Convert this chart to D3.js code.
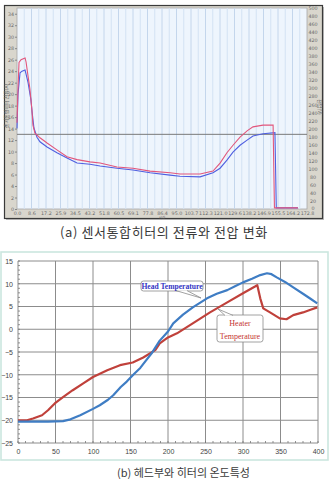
<!DOCTYPE html>
<html>
<head>
<meta charset="utf-8">
<script src="https://cdn.jsdelivr.net/npm/d3@7"></script>
<style>
  body { margin: 0; background: #fff; }
  svg { display: block; }
</style>
</head>
<body>
<script>
var width = 331, height = 479;

// (a) current / voltage of the sensor-integrated heater
var timeTickLabels = ["0.0", "8.6", "17.2", "25.9", "34.5", "43.2", "51.8", "60.5", "69.1", "77.8", "86.4",
    "95.0", "103.7", "112.3", "121.0", "129.6", "138.2", "146.9", "155.5", "164.2", "172.8"];
var currentTicks = d3.range(0, 35, 2);
var voltageTicks = d3.range(0, 501, 20);
var setLevel = 13.0;

var redTime = [0, 0.6, 1.2, 2.4, 4.8, 5.4, 6.6, 7.7, 8.9, 9.5, 10.7, 13.7, 17.9, 23.8, 29.8, 35.8, 43.5, 49.5,
    59.6, 69.1, 79.3, 91.2, 97.1, 109.1, 116.8, 121.0, 125.1, 128.7, 132.9, 137.1, 140.6, 146.6, 152.6, 153.4, 167.4];
var redValue = [15.0, 21.0, 25.5, 26.0, 26.3, 25.6, 23.1, 20.9, 17.2, 14.6, 13.2, 12.4, 11.5, 10.3, 9.1, 8.6, 8.2, 8.0,
    7.3, 7.1, 6.6, 6.3, 6.1, 6.1, 6.6, 8.0, 9.8, 11.1, 12.5, 13.6, 14.3, 14.6, 14.6, 0.2, 0.2];

var blueTime = [0, 0.6, 1.8, 3.0, 4.8, 5.4, 6.6, 8.3, 9.0, 10.1, 11.9, 13.7, 17.9, 23.8, 29.8, 35.8, 43.5, 49.5,
    59.6, 69.1, 79.3, 91.2, 97.1, 109.1, 116.8, 121.0, 125.1, 128.7, 132.9, 137.1, 140.6, 146.6, 153.7, 154.5, 167.4];
var blueValue = [14.0, 20.0, 23.7, 24.0, 24.2, 23.5, 22.0, 19.0, 16.9, 14.1, 12.5, 11.7, 10.8, 9.8, 8.9, 8.0, 7.8, 7.5,
    7.1, 6.8, 6.3, 5.9, 5.7, 5.6, 6.3, 7.1, 8.5, 9.9, 11.1, 12.0, 12.7, 13.1, 13.3, 0.2, 0.2];

// (b) head / heater temperature
var tempXTicks = [0, 50, 100, 150, 200, 250, 300, 350, 400];
var tempYTicks = [-25, -20, -15, -10, -5, 0, 5, 10, 15];

var headTime = [0, 20, 40, 60, 70, 83, 100, 109, 120, 127, 137, 145, 155, 163, 170, 179, 189, 200, 207, 220, 233,
    252, 265, 279, 290, 300, 312, 323, 332, 338, 345, 356, 367, 380, 390, 399];
var headTemp = [-20.3, -20.3, -20.3, -20.2, -19.8, -18.9, -17.5, -16.7, -15.5, -14.5, -12.7, -11.5, -9.8, -8.5, -7.0, -5.1, -2.5, -0.5, 1.3, 3.2, 4.8,
    6.8, 7.8, 8.6, 9.5, 10.3, 11.1, 11.9, 12.3, 12.1, 11.4, 10.4, 9.2, 7.8, 6.7, 5.7];

var heaterTime = [0, 12, 20, 32, 40, 49, 60, 73, 87, 100, 119, 136, 153, 167, 183, 189, 200, 212, 233, 256, 279,
    300, 316, 319, 323, 327, 336, 349, 358, 367, 380, 390, 399];
var heaterTemp = [-20.0, -20.0, -19.6, -18.9, -17.8, -16.3, -14.9, -13.4, -11.9, -10.5, -9.0, -7.9, -7.3, -6.2, -4.6, -3.1, -1.8, -0.9, 1.3, 3.7, 5.9,
    7.9, 9.4, 9.7, 6.8, 4.6, 3.7, 2.4, 2.2, 3.1, 3.7, 4.3, 4.8];

var svg = d3.select("body").append("svg")
    .attr("width", width)
    .attr("height", height);

// ---------- chart (a) ----------
var ga = svg.append("g");

// window frame
ga.append("rect")
    .attr("x", 6).attr("y", 7).attr("width", 318).attr("height", 213)
    .attr("fill", "#bdbdbd");
ga.append("rect")
    .attr("x", 4.5).attr("y", 5.5).attr("width", 318).attr("height", 213)
    .attr("fill", "#d9d6cd").attr("stroke", "#3a3a3a").attr("stroke-width", 1.2);

var xa = d3.scaleLinear().domain([0, 172.8]).range([17, 307]);
var ya = d3.scaleLinear().domain([0, 35]).range([209, 8]);
var yv = d3.scaleLinear().domain([0, 500]).range([209, 8]);

ga.append("rect")
    .attr("x", xa(0)).attr("y", ya(35))
    .attr("width", xa(172.8) - xa(0)).attr("height", ya(0) - ya(35))
    .attr("fill", "#eef5fd").attr("stroke", "#a8a8a8").attr("stroke-width", 0.8);

// vertical grid, every half tick
ga.append("g").selectAll("line")
    .data(d3.range(1, 40))
    .enter().append("line")
    .attr("x1", function (d) { return xa(d * 4.32); })
    .attr("x2", function (d) { return xa(d * 4.32); })
    .attr("y1", ya(35)).attr("y2", ya(0))
    .attr("stroke", function (d) { return d % 2 ? "#d3e2f3" : "#c4d6ec"; })
    .attr("stroke-width", 1);

// set level line
ga.append("line")
    .attr("x1", xa(0)).attr("x2", xa(172.8))
    .attr("y1", ya(setLevel)).attr("y2", ya(setLevel))
    .attr("stroke", "#7a7a7a").attr("stroke-width", 1);

var lineA = function (times, values) {
    return d3.line()
        .x(function (d, i) { return xa(times[i]); })
        .y(function (d, i) { return ya(values[i]); })(values);
};

ga.append("path").attr("d", lineA(blueTime, blueValue))
    .attr("fill", "none").attr("stroke", "#4f5fe0").attr("stroke-width", 1.1);
ga.append("path").attr("d", lineA(redTime, redValue))
    .attr("fill", "none").attr("stroke", "#e2567c").attr("stroke-width", 1.1);

// axes
var axL = ga.append("g").attr("transform", "translate(" + xa(0) + ",0)")
    .call(d3.axisLeft(ya).tickValues(currentTicks).tickSize(2).tickPadding(1));
var axR = ga.append("g").attr("transform", "translate(" + xa(172.8) + ",0)")
    .call(d3.axisRight(yv).tickValues(voltageTicks).tickSize(0).tickPadding(6));
var axB = ga.append("g").attr("transform", "translate(0," + ya(0) + ")")
    .call(d3.axisBottom(xa)
        .tickValues(timeTickLabels.map(function (d) { return +d; }))
        .tickFormat(function (d, i) { return timeTickLabels[i]; })
        .tickSize(0).tickPadding(2.6));
[axL, axR, axB].forEach(function (ax) {
    ax.select(".domain").remove();
    ax.selectAll("line").attr("stroke", "#888");
    ax.selectAll("text").attr("fill", "#6a6a6a")
        .style("font-family", "DejaVu Sans, sans-serif").style("font-size", "4.8px");
});
axR.selectAll("text").attr("text-anchor", "middle").attr("x", 6);
axR.selectAll(".tick").filter(function (d) { return d === 0; })
    .select("text").attr("dy", "0.1em");

ga.append("text")
    .attr("transform", "translate(8,106) rotate(-90)")
    .attr("text-anchor", "middle")
    .style("font-family", "Noto Sans CJK KR, sans-serif").style("font-size", "5px")
    .attr("fill", "#666")
    .text("센서통합히터 전류(A)");
ga.append("text")
    .attr("transform", "translate(318,107) rotate(90)")
    .attr("text-anchor", "middle")
    .style("font-family", "Noto Sans CJK KR, sans-serif").style("font-size", "5px")
    .attr("fill", "#666")
    .text("전압(V)");
ga.append("text")
    .attr("x", xa(86.4)).attr("y", 219)
    .attr("text-anchor", "middle")
    .style("font-family", "Noto Sans CJK KR, sans-serif").style("font-size", "3.6px")
    .attr("fill", "#666")
    .text("시간");

svg.append("text")
    .attr("x", 60).attr("y", 237)
    .style("font-family", "Noto Sans CJK KR, sans-serif").style("font-size", "13px")
    .style("letter-spacing", "0.6px")
    .attr("fill", "#3a3a3a")
    .text("(a)  센서통합히터의 전류와 전압 변화");

// ---------- chart (b) ----------
var gb = svg.append("g");

gb.append("rect")
    .attr("x", 1).attr("y", 252).attr("width", 327).attr("height", 208)
    .attr("fill", "#fff").attr("stroke", "#cbe6df").attr("stroke-width", 1.6);

var xb = d3.scaleLinear().domain([0, 400]).range([18, 318]);
var yb = d3.scaleLinear().domain([-25, 15]).range([443, 261]);

// grid
gb.append("g").selectAll("line")
    .data(tempYTicks)
    .enter().append("line")
    .attr("x1", xb(0)).attr("x2", xb(400))
    .attr("y1", function (d) { return yb(d); })
    .attr("y2", function (d) { return yb(d); })
    .attr("stroke", "#8c8c8c").attr("stroke-width", 1);
gb.append("g").selectAll("line")
    .data(tempXTicks)
    .enter().append("line")
    .attr("x1", function (d) { return xb(d); })
    .attr("x2", function (d) { return xb(d); })
    .attr("y1", yb(15)).attr("y2", yb(-25))
    .attr("stroke", "#8c8c8c").attr("stroke-width", 1);

// minor ticks
gb.append("g").selectAll("line")
    .data(d3.range(-25, 16, 1))
    .enter().append("line")
    .attr("x1", xb(0)).attr("x2", xb(0) + 2)
    .attr("y1", function (d) { return yb(d); })
    .attr("y2", function (d) { return yb(d); })
    .attr("stroke", "#777").attr("stroke-width", 0.8);
gb.append("g").selectAll("line")
    .data(d3.range(0, 401, 10))
    .enter().append("line")
    .attr("x1", function (d) { return xb(d); })
    .attr("x2", function (d) { return xb(d); })
    .attr("y1", yb(-25)).attr("y2", yb(-25) - 2)
    .attr("stroke", "#777").attr("stroke-width", 0.8);

var axBL = gb.append("g").attr("transform", "translate(" + xb(0) + ",0)")
    .call(d3.axisLeft(yb).tickValues(tempYTicks).tickSize(0).tickPadding(5));
var axBB = gb.append("g").attr("transform", "translate(0," + yb(-25) + ")")
    .call(d3.axisBottom(xb).tickValues(tempXTicks).tickSize(0).tickPadding(6));
[axBL, axBB].forEach(function (ax) {
    ax.select(".domain").remove();
    ax.selectAll("text").attr("fill", "#444")
        .style("font-family", "Liberation Sans, sans-serif").style("font-size", "7px");
});

var lineB = function (times, values) {
    return d3.line()
        .x(function (d, i) { return xb(times[i]); })
        .y(function (d, i) { return yb(values[i]); })(values);
};

gb.append("path").attr("d", lineB(heaterTime, heaterTemp))
    .attr("fill", "none").attr("stroke", "#c0413b").attr("stroke-width", 2.2)
    .attr("stroke-linejoin", "round");
gb.append("path").attr("d", lineB(headTime, headTemp))
    .attr("fill", "none").attr("stroke", "#3f7dc4").attr("stroke-width", 2.2)
    .attr("stroke-linejoin", "round");

// callouts
function callout(box, base, tip) {
    var c = gb.append("g");
    c.append("rect")
        .attr("x", box[0]).attr("y", box[1]).attr("width", box[2]).attr("height", box[3])
        .attr("rx", 2.5).attr("fill", "#fff").attr("stroke", "#8a8a8a").attr("stroke-width", 0.8);
    c.append("path")
        .attr("d", "M" + base[0] + "L" + tip + "L" + base[1] + "Z")
        .attr("fill", "#fff");
    c.append("path")
        .attr("d", "M" + base[0] + "L" + tip + "L" + base[1])
        .attr("fill", "none").attr("stroke", "#8a8a8a").attr("stroke-width", 0.8);
    return c;
}

var headBox = callout([141, 281, 62, 10], [[176, 290.6], [187, 290.6]], [201, 298]);
headBox.append("text")
    .attr("x", 172).attr("y", 289)
    .attr("text-anchor", "middle")
    .style("font-family", "Liberation Serif, serif").style("font-size", "7.6px").style("font-weight", "bold")
    .attr("fill", "#3434c4")
    .text("Head Temperature");

var heaterBox = callout([217, 315, 46, 27], [[225, 315.4], [233, 315.4]], [218, 309]);
heaterBox.append("text")
    .attr("x", 240).attr("y", 326)
    .attr("text-anchor", "middle")
    .style("font-family", "Liberation Serif, serif").style("font-size", "8px")
    .attr("fill", "#c4332f")
    .text("Heater");
heaterBox.append("text")
    .attr("x", 240).attr("y", 339)
    .attr("text-anchor", "middle")
    .style("font-family", "Liberation Serif, serif").style("font-size", "8px")
    .attr("fill", "#c4332f")
    .text("Temperature");

svg.append("text")
    .attr("x", 117).attr("y", 477)
    .style("font-family", "Noto Sans CJK KR, sans-serif").style("font-size", "11px")
    .attr("fill", "#3a3a3a")
    .text("(b)  헤드부와 히터의 온도특성");
</script>
</body>
</html>
